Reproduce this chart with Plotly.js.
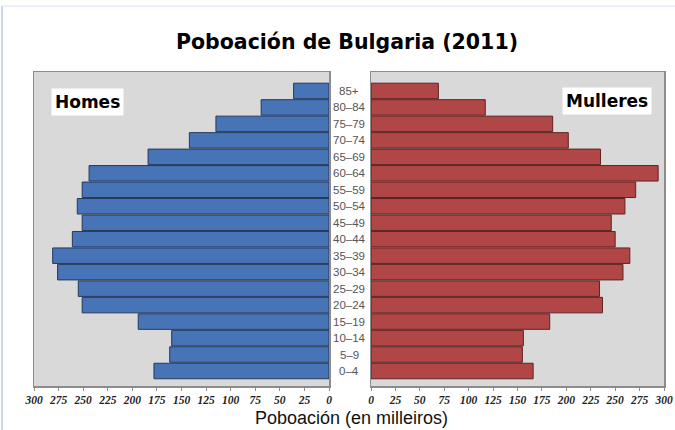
<!DOCTYPE html>
<html>
<head>
<meta charset="utf-8">
<script src="https://cdn.plot.ly/plotly-3.0.1.min.js"></script>
<style>html,body{margin:0;padding:0;background:#fff;}#chart{width:675px;height:430px;}</style>
</head>
<body>
<div id="chart"></div>
<script>
const ageGroups = ["0–4","5–9","10–14","15–19","20–24","25–29","30–34","35–39","40–44","45–49","50–54","55–59","60–64","65–69","70–74","75–79","80–84","85+"];
const men   = [178, 162, 160, 194, 251, 255, 276, 281, 261, 251, 256, 251, 244, 184, 142, 115, 69, 36];
const women = [166, 155, 156, 183, 237, 234, 258, 265, 250, 246, 260, 271, 294, 235, 202, 186, 117, 69];
const leftTicks = [0,25,50,75,100,125,150,175,200,225,250,275,300];

const W = 675, H = 430;
const px = v => v / W;
const py = v => 1 - v / H;

const tickFont = {family: "Liberation Serif", size: 11.5, color: "#222", weight: "bold", style: "italic"};
const axisCommon = {
  showgrid: false, zeroline: false, showline: true, mirror: true,
  linecolor: "#8c8c8c", linewidth: 1.5, ticks: "outside", ticklen: 3,
  tickcolor: "#8c8c8c", tickfont: tickFont, tickvals: leftTicks,
  ticktext: leftTicks.map(String), fixedrange: true
};
const yCommon = {
  type: "category", categoryorder: "array", categoryarray: ageGroups,
  range: [-0.91, 18.15], showticklabels: false, showgrid: false, zeroline: false,
  showline: true, mirror: true, linecolor: "#8c8c8c", linewidth: 1.5, ticks: "",
  domain: [py(386), py(72)]
};

const traces = [
  {type: "bar", orientation: "h", x: men, y: ageGroups, xaxis: "x", yaxis: "y",
   marker: {color: "#4774b6", line: {color: "#26385a", width: 1}}, hoverinfo: "x+y", name: "Homes"},
  {type: "bar", orientation: "h", x: women, y: ageGroups, xaxis: "x2", yaxis: "y2",
   marker: {color: "#b04646", line: {color: "#5e2222", width: 1}}, hoverinfo: "x+y", name: "Mulleres"}
];

const annotations = ageGroups.map(a => ({
  xref: "paper", yref: "y", x: px(349), y: a, text: a, showarrow: false,
  xanchor: "center", yanchor: "middle",
  font: {family: "Liberation Sans", size: 11.5, color: "#555"}
}));
annotations.push(
  {xref: "paper", yref: "paper", x: px(87), y: py(102), text: "<b>Homes</b>", showarrow: false,
   xanchor: "center", yanchor: "middle",
   bgcolor: "#ffffff", borderpad: 3, font: {family: "DejaVu Sans", size: 17, color: "#000"}},
  {xref: "paper", yref: "paper", x: px(607), y: py(101), text: "<b>Mulleres</b>", showarrow: false,
   xanchor: "center", yanchor: "middle",
   bgcolor: "#ffffff", borderpad: 3, font: {family: "DejaVu Sans", size: 17, color: "#000"}},
  {xref: "paper", yref: "paper", x: px(352), y: py(418), text: "Poboación (en milleiros)", showarrow: false,
   xanchor: "center", yanchor: "middle", font: {family: "Liberation Sans", size: 18, color: "#111"}}
);

const layout = {
  width: W, height: H, margin: {l: 0, r: 0, t: 0, b: 0},
  paper_bgcolor: "#ffffff", plot_bgcolor: "#d9d9d9",
  showlegend: false, bargap: 0.06,
  title: {text: "<b>Poboación de Bulgaria (2011)</b>", x: px(347), xanchor: "center",
          y: py(42), yanchor: "middle", font: {family: "DejaVu Sans", size: 20.5, color: "#000"}},
  xaxis: Object.assign({}, axisCommon, {domain: [px(34), px(329)], range: [300, 0], anchor: "y"}),
  xaxis2: Object.assign({}, axisCommon, {domain: [px(371), px(664)], range: [0, 300], anchor: "y2"}),
  yaxis: Object.assign({}, yCommon, {anchor: "x"}),
  yaxis2: Object.assign({}, yCommon, {anchor: "x2"}),
  annotations: annotations,
  shapes: [
    {type: "line", xref: "paper", yref: "paper", x0: px(2), x1: px(2), y0: 0, y1: py(6), line: {color: "#b8c8e8", width: 1.5}},
    {type: "line", xref: "paper", yref: "paper", x0: px(2), x1: 1, y0: py(6), y1: py(6), line: {color: "#d8e0f0", width: 1}}
  ]
};

Plotly.newPlot("chart", traces, layout, {displayModeBar: false, staticPlot: true});
</script>
</body>
</html>
